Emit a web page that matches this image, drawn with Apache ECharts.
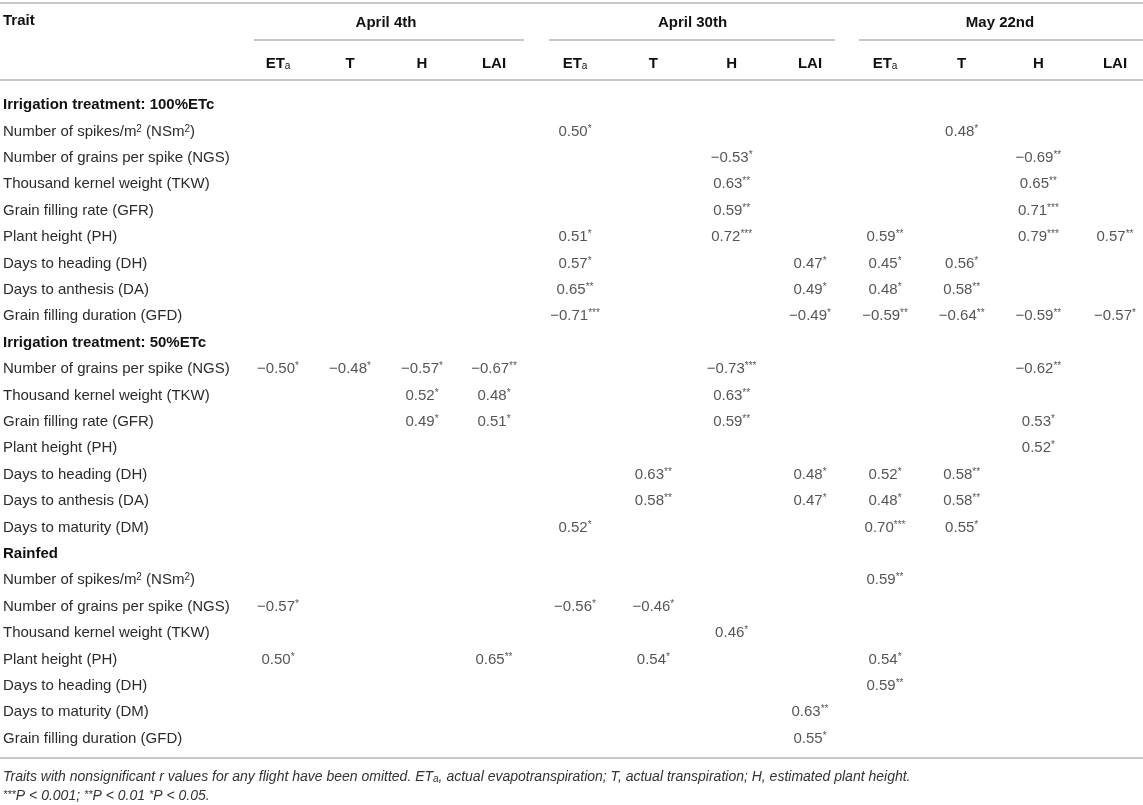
<!DOCTYPE html>
<html>
<head>
<meta charset="utf-8">
<script src="https://cdn.jsdelivr.net/npm/echarts@6/dist/echarts.min.js"></script>
<style>
  html, body { margin: 0; padding: 0; background: #fff; }
  #main { width: 1143px; height: 805px; }
</style>
</head>
<body>
<div id="main"></div>
<script>
// rows of the table (section headers at 0, 9, 17)
var rowLabels = [
  'Irrigation treatment: 100%ETc',
  'Number of spikes/m{sup|2} (NSm{sup|2})',
  'Number of grains per spike (NGS)',
  'Thousand kernel weight (TKW)',
  'Grain filling rate (GFR)',
  'Plant height (PH)',
  'Days to heading (DH)',
  'Days to anthesis (DA)',
  'Grain filling duration (GFD)',
  'Irrigation treatment: 50%ETc',
  'Number of grains per spike (NGS)',
  'Thousand kernel weight (TKW)',
  'Grain filling rate (GFR)',
  'Plant height (PH)',
  'Days to heading (DH)',
  'Days to anthesis (DA)',
  'Days to maturity (DM)',
  'Rainfed',
  'Number of spikes/m{sup|2} (NSm{sup|2})',
  'Number of grains per spike (NGS)',
  'Thousand kernel weight (TKW)',
  'Plant height (PH)',
  'Days to heading (DH)',
  'Days to maturity (DM)',
  'Grain filling duration (GFD)'
];
var sectionRows = [0, 9, 17];
var flights = ['April 4th', 'April 30th', 'May 22nd'];
var traits = ['ETa', 'T', 'H', 'LAI'];

// [row, trait column, r, significance]
var april4 = [
  [10, 0, -0.50, '*'], [10, 1, -0.48, '*'], [10, 2, -0.57, '*'], [10, 3, -0.67, '**'],
  [11, 2, 0.52, '*'], [11, 3, 0.48, '*'],
  [12, 2, 0.49, '*'], [12, 3, 0.51, '*'],
  [19, 0, -0.57, '*'],
  [21, 0, 0.50, '*'], [21, 3, 0.65, '**']
];
var april30 = [
  [1, 0, 0.50, '*'],
  [2, 2, -0.53, '*'],
  [3, 2, 0.63, '**'],
  [4, 2, 0.59, '**'],
  [5, 0, 0.51, '*'], [5, 2, 0.72, '***'],
  [6, 0, 0.57, '*'], [6, 3, 0.47, '*'],
  [7, 0, 0.65, '**'], [7, 3, 0.49, '*'],
  [8, 0, -0.71, '***'], [8, 3, -0.49, '*'],
  [10, 2, -0.73, '***'],
  [11, 2, 0.63, '**'],
  [12, 2, 0.59, '**'],
  [14, 1, 0.63, '**'], [14, 3, 0.48, '*'],
  [15, 1, 0.58, '**'], [15, 3, 0.47, '*'],
  [16, 0, 0.52, '*'],
  [19, 0, -0.56, '*'], [19, 1, -0.46, '*'],
  [20, 2, 0.46, '*'],
  [21, 1, 0.54, '*'],
  [23, 3, 0.63, '**'],
  [24, 3, 0.55, '*']
];
var may22 = [
  [1, 1, 0.48, '*'],
  [2, 2, -0.69, '**'],
  [3, 2, 0.65, '**'],
  [4, 2, 0.71, '***'],
  [5, 0, 0.59, '**'], [5, 2, 0.79, '***'], [5, 3, 0.57, '**'],
  [6, 0, 0.45, '*'], [6, 1, 0.56, '*'],
  [7, 0, 0.48, '*'], [7, 1, 0.58, '**'],
  [8, 0, -0.59, '**'], [8, 1, -0.64, '**'], [8, 2, -0.59, '**'], [8, 3, -0.57, '*'],
  [10, 2, -0.62, '**'],
  [12, 2, 0.53, '*'],
  [13, 2, 0.52, '*'],
  [14, 0, 0.52, '*'], [14, 1, 0.58, '**'],
  [15, 0, 0.48, '*'], [15, 1, 0.58, '**'],
  [16, 0, 0.70, '***'], [16, 1, 0.55, '*'],
  [18, 0, 0.59, '**'],
  [21, 0, 0.54, '*'],
  [22, 0, 0.59, '**']
];
var footnote1 = 'Traits with nonsignificant r values for any flight have been omitted. ET{sub|a}, actual evapotranspiration; T, actual transpiration; H, estimated plant height.';
var footnote2 = '{s|***}P < 0.001; {s|**}P < 0.01 {s|*}P < 0.05.';

var FONT = "'Liberation Sans', Arial, sans-serif";
var TEXT = '#2b2b2b';
var RULE = '#b4b4b4';

var chart = echarts.init(document.getElementById('main'), null, { renderer: 'canvas' });

// column layout of the three flight blocks
var blocks = [
  { left: 278, width: 216, line: [254, 524] },
  { left: 575, width: 235, line: [549, 835] },
  { left: 885, width: 230, line: [859, 1143] }
];
var gridTop = 105, gridHeight = 633.6;

function fmtR(v) {
  var s = Math.abs(v).toFixed(2);
  return (v < 0 ? '\u2212' : '') + s;
}

var grids = [], xAxes = [], yAxes = [], series = [];
var cellSets = [april4, april30, may22];

blocks.forEach(function (b, i) {
  grids.push({ left: b.left, width: b.width, top: gridTop, height: gridHeight,
    containLabel: false, outerBoundsMode: 'none' });
  xAxes.push({
    type: 'category', gridIndex: i, data: traits, position: 'top', boundaryGap: false,
    axisLine: { show: false }, axisTick: { show: false }, splitLine: { show: false },
    axisLabel: {
      interval: 0, margin: 34, fontFamily: FONT, fontSize: 15, fontWeight: 'bold', color: '#111',
      formatter: function (v) { return v === 'ETa' ? 'ET{sub|a}' : v; },
      rich: { sub: { fontSize: 10, fontWeight: 'normal', verticalAlign: 'bottom', color: '#111', fontFamily: FONT } }
    },
    name: flights[i], nameLocation: 'middle', nameGap: 75,
    nameTextStyle: { fontFamily: FONT, fontSize: 15, fontWeight: 'bold', color: '#111' }
  });
  yAxes.push({
    type: 'category', gridIndex: i, data: rowLabels, inverse: true, boundaryGap: false,
    axisLine: { show: false }, axisTick: { show: false }, splitLine: { show: false },
    axisLabel: i === 0 ? {
      interval: 0, align: 'left', margin: b.left - 3, fontFamily: FONT, fontSize: 15, color: TEXT,
      formatter: function (v, idx) {
        return sectionRows.indexOf(idx) >= 0 ? '{b|' + v + '}' : v;
      },
      rich: {
        b: { fontWeight: 'bold', fontSize: 15, color: '#111', fontFamily: FONT },
        sup: { fontSize: 10, verticalAlign: 'top', color: TEXT, fontFamily: FONT }
      }
    } : { show: false }
  });
  series.push({
    type: 'scatter', xAxisIndex: i, yAxisIndex: i, silent: true,
    symbolSize: 1, itemStyle: { color: 'rgba(0,0,0,0)' },
    data: cellSets[i].map(function (c) { return [c[1], c[0], c[2], c[3]]; }),
    label: {
      show: true, position: 'inside', fontFamily: FONT, fontSize: 15, color: TEXT,
      formatter: function (p) { return fmtR(p.data[2]) + '{s|' + p.data[3] + '}'; },
      rich: { s: { fontSize: 10, verticalAlign: 'top', color: TEXT, fontFamily: FONT } }
    }
  });
});

var rules = [
  { shape: { x1: 0, y1: 3, x2: 1143, y2: 3 } },
  { shape: { x1: 0, y1: 80, x2: 1143, y2: 80 } },
  { shape: { x1: 0, y1: 758, x2: 1143, y2: 758 } }
];
blocks.forEach(function (b) {
  rules.push({ shape: { x1: b.line[0], y1: 40, x2: b.line[1], y2: 40 } });
});

var noteStyle = { fontFamily: FONT, fontSize: 14, fontStyle: 'italic', fontWeight: 'normal', color: '#333' };

var option = {
  backgroundColor: '#fff',
  animation: false,
  tooltip: { show: false },
  title: [
    { text: 'Trait', left: 3, top: 13, padding: 0,
      textStyle: { fontFamily: FONT, fontSize: 15, fontWeight: 'bold', color: '#111' } },
    { text: footnote1, left: 3, top: 770, padding: 0,
      textStyle: Object.assign({}, noteStyle, {
        rich: { sub: { fontSize: 10, fontStyle: 'italic', verticalAlign: 'bottom', color: '#333', fontFamily: FONT } } }) },
    { text: footnote2, left: 3, top: 789, padding: 0,
      textStyle: Object.assign({}, noteStyle, {
        rich: { s: { fontSize: 11, fontStyle: 'italic', verticalAlign: 'top', color: '#333', fontFamily: FONT } } }) }
  ],
  grid: grids,
  xAxis: xAxes,
  yAxis: yAxes,
  series: series,
  graphic: rules.map(function (r) {
    return { type: 'line', shape: r.shape, silent: true, style: { stroke: RULE, lineWidth: 1.5 } };
  })
};

chart.setOption(option);
</script>
</body>
</html>
